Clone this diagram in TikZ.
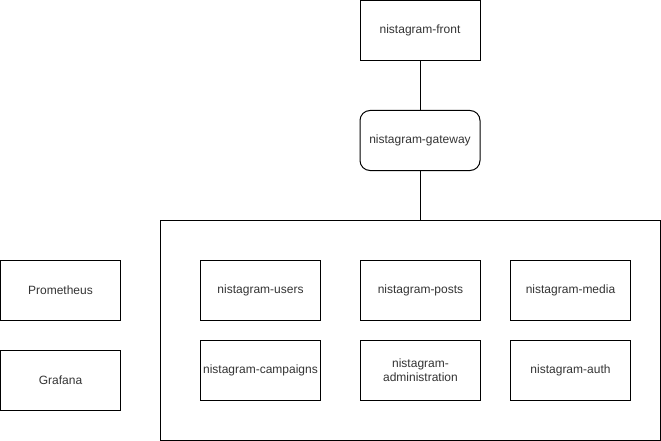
\documentclass[tikz,border=0pt]{standalone}
\usepackage{fontspec}
\setmainfont{Liberation Sans}
\begin{document}
\begin{tikzpicture}[x=1pt,y=-1pt,line width=1pt,
  box/.style={draw=black,rectangle,minimum width=120pt,minimum height=60pt,inner sep=0pt,align=center,font=\fontsize{12}{14}\selectfont,text=black!80},
  rbox/.style={box,rounded corners=10pt},
  frame/.style={draw=black,rectangle,minimum width=500pt,minimum height=220pt,inner sep=0pt}]
\useasboundingbox (0,0) rectangle (661,441);
\node[box] (front) at (420,30.5) {nistagram-front};
\node[rbox] (gateway) at (420,140.5) {nistagram-gateway};
\node[frame] (cluster) at (410.5,330.5) {};
\node[box] (prom) at (60.5,290.5) {Prometheus};
\node[box] (graf) at (60.5,380.5) {Grafana};
\node[box] (users) at (260.5,290.5) {nistagram-users};
\node[box] (posts) at (420.5,290.5) {nistagram-posts};
\node[box] (media) at (570.5,290.5) {nistagram-media};
\node[box] (camp) at (260.5,370.5) {nistagram-campaigns};
\node[box] (admin) at (420.5,370.5) {nistagram-\\administration};
\node[box] (auth) at (570.5,370.5) {nistagram-auth};
\draw (front.south) -- (gateway.north);
\draw (gateway.south) -- (gateway.south |- cluster.north);
\end{tikzpicture}
\end{document}
